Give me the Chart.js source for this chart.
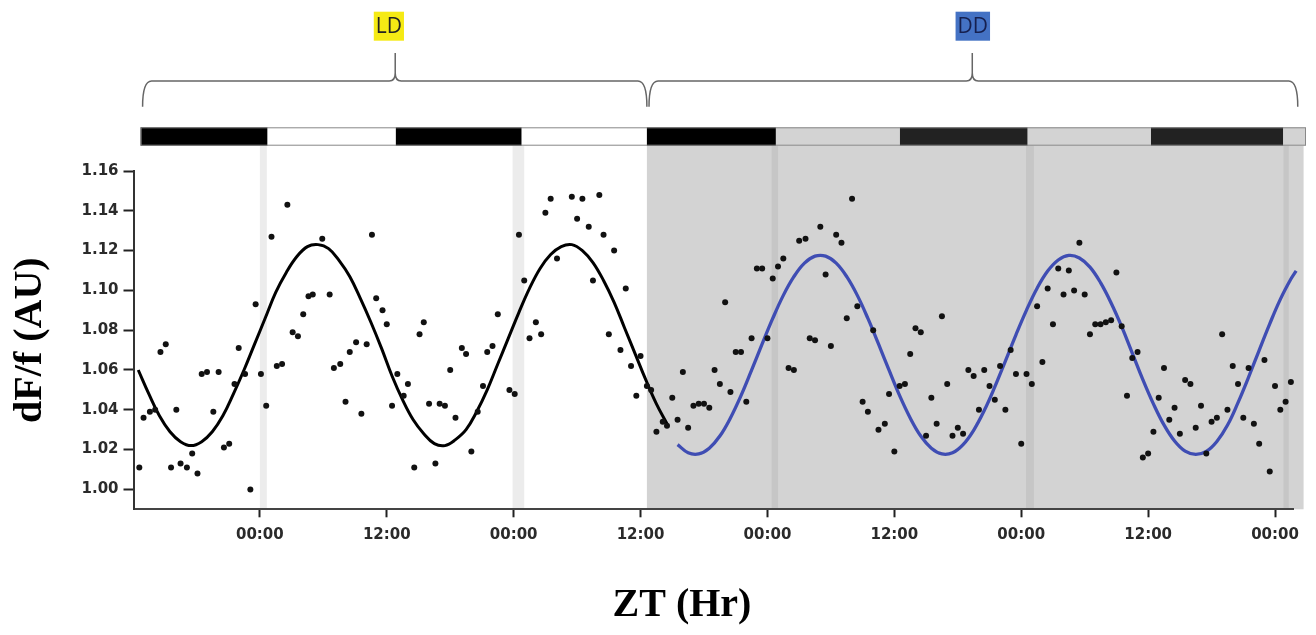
<!DOCTYPE html>
<html><head><meta charset="utf-8">
<script src="https://cdn.jsdelivr.net/npm/chart.js@4.4.1/dist/chart.umd.min.js"></script>
<style>html,body{margin:0;padding:0;background:#fff;}#wrap{width:1316px;height:635px;position:relative;}</style>
</head><body><div id="wrap"><canvas id="c" width="1316" height="635"></canvas></div>
<script>
// ---- data (hours relative to first 00:00) ----
const pointHours = [-11.4,-11.0,-10.4,-9.9,-9.4,-8.9,-8.4,-7.9,-7.5,-6.9,-6.4,-5.9,-5.5,-5.0,-4.4,-3.9,-3.4,-2.9,-2.4,-2.0,-1.4,-0.9,-0.4,0.1,0.6,1.1,1.6,2.1,2.6,3.1,3.6,4.1,4.6,5.0,5.9,6.6,7.0,7.6,8.1,8.5,9.1,9.6,10.1,10.6,11.0,11.6,12.0,12.5,13.0,13.6,14.0,14.6,15.1,15.5,16.0,16.6,17.0,17.5,
18.0,18.5,19.1,19.5,20.0,20.6,21.1,21.5,22.0,22.5,23.6,24.1,24.5,25.0,25.5,26.1,26.6,27.0,27.5,28.1,29.5,30.0,30.5,31.1,31.5,32.1,32.5,33.0,33.5,34.1,34.6,35.1,35.6,36.0,36.6,37.0,37.5,38.1,38.5,39.0,39.5,40.0,40.5,41.0,41.5,42.0,42.5,43.0,43.5,44.0,44.5,45.0,45.5,46.0,46.5,47.0,47.5,48.0,48.5,49.0,49.5,50.0,50.5,51.0,51.6,52.0,52.5,53.0,53.5,54.0,54.5,55.0,55.5,56.0,56.5,57.0,57.5,
58.0,58.5,59.1,59.5,60.0,60.5,61.0,61.5,62.0,62.5,63.0,63.5,64.0,64.5,65.0,65.5,66.0,66.5,67.0,67.5,68.0,68.5,69.0,69.5,70.0,70.5,71.0,71.5,72.0,72.5,73.0,73.5,74.0,74.5,75.0,75.5,76.0,76.5,77.0,77.5,78.0,78.5,79.0,79.5,80.0,80.5,81.0,81.5,82.0,82.5,83.0,83.5,84.0,84.5,85.0,85.5,86.0,86.5,87.0,87.5,88.0,88.5,89.0,89.5,90.0,90.5,91.0,91.5,92.0,92.5,93.0,93.5,94.0,94.5,95.0,95.5,96.0,96.5,97.0,97.5];
const pointValues = [1.011,1.036,1.039,1.040,1.069,1.073,1.011,1.040,1.013,1.011,1.018,1.008,1.058,1.059,1.039,1.059,1.021,1.023,1.053,1.071,1.058,1.000,1.093,1.058,1.042,1.127,1.062,1.063,1.143,1.079,1.077,1.088,1.097,1.098,1.126,1.098,1.061,1.063,1.044,1.069,1.074,1.038,1.073,1.128,1.096,1.090,1.083,1.042,1.058,1.047,1.053,1.011,1.078,1.084,1.043,1.013,1.043,1.042,
1.060,1.036,1.071,1.068,1.019,1.039,1.052,1.069,1.072,1.088,1.050,1.048,1.128,1.105,1.076,1.084,1.078,1.139,1.146,1.116,1.147,1.136,1.146,1.132,1.105,1.148,1.128,1.078,1.120,1.070,1.101,1.062,1.047,1.067,1.052,1.050,1.029,1.034,1.032,1.046,1.035,1.059,1.031,1.042,1.043,1.043,1.041,1.060,1.053,1.094,1.049,1.069,1.069,1.044,1.076,1.111,1.111,1.076,1.106,1.112,1.116,1.061,1.060,1.125,1.126,1.076,1.075,1.132,1.108,1.072,1.128,1.124,1.086,1.146,1.092,1.044,1.039,
1.080,1.030,1.033,1.048,1.019,1.052,1.053,1.068,1.081,1.079,1.027,1.046,1.033,1.087,1.053,1.027,1.031,1.028,1.060,1.057,1.040,1.060,1.052,1.045,1.062,1.040,1.070,1.058,1.023,1.058,1.053,1.092,1.064,1.101,1.083,1.111,1.098,1.110,1.100,1.124,1.098,1.078,1.083,1.083,1.084,1.085,1.109,1.082,1.047,1.066,1.069,1.016,1.018,1.029,1.046,1.061,1.035,1.041,1.028,1.055,1.053,1.031,1.042,1.018,1.034,1.036,1.078,1.040,1.062,1.053,1.036,1.061,1.033,1.023,1.065,1.009,1.052,1.040,1.044,1.054];

const ldFitHours = [-11.5,-10.5,-9.5,-8.5,-7.5,-6.5,-5.5,-4.5,-3.5,-2.5,-1.5,-0.5,0.5,1.5,2.5,3.5,4.5,5.5,6.5,7.5,8.5,9.5,10.5,11.5,12.5,13.5,14.5,15.5,16.5,17.5,18.5,19.5,20.5,21.5,22.5,23.5,24.5,25.5,26.5,27.5,28.5,29.5,30.5,31.5,32.5,33.5,34.5,35.5,36.5,37.5,38.5];
const ldFitValues = [1.060,1.048,1.037,1.029,1.024,1.022,1.024,1.029,1.037,1.048,1.060,1.073,1.086,1.099,1.109,1.117,1.122,1.123,1.121,1.115,1.107,1.096,1.084,1.071,1.057,1.045,1.035,1.028,1.023,1.022,1.025,1.030,1.039,1.050,1.063,1.076,1.089,1.101,1.111,1.118,1.122,1.123,1.120,1.114,1.105,1.094,1.081,1.068,1.055,1.043,1.033];

const ddFitHours = [39.5,40.5,41.5,42.5,43.5,44.5,45.5,46.5,47.5,48.5,49.5,50.5,51.5,52.5,53.5,54.5,55.5,56.5,57.5,58.5,59.5,60.5,61.5,62.5,63.5,64.5,65.5,66.5,67.5,68.5,69.5,70.5,71.5,72.5,73.5,74.5,75.5,76.5,77.5,78.5,79.5,80.5,81.5,82.5,83.5,84.5,85.5,86.5,87.5,88.5,89.5,90.5,91.5,92.5,93.5,94.5,95.5,96.5,97.5,98.0];
const ddFitValues = [1.0225,1.0184,1.0178,1.0207,1.0268,1.0359,1.0471,1.0599,1.0731,1.0859,1.0975,1.1069,1.1137,1.1172,1.1172,1.1137,1.1069,1.0975,1.0859,1.0731,1.0599,1.0471,1.0359,1.0268,1.0207,1.0178,1.0184,1.0225,1.0297,1.0396,1.0515,1.0645,1.0777,1.0901,1.1011,1.1097,1.1153,1.1176,1.1163,1.1117,1.1039,1.0937,1.0818,1.0685,1.0552,1.0430,1.0324,1.0243,1.0192,1.0176,1.0191,1.0241,1.0322,1.0436,1.0564,1.0699,1.0832,1.0955,1.1057,1.1098];

const xTickHours = [0,12,24,36,48,60,72,84,96];
const xTickLabels = ['00:00','12:00','00:00','12:00','00:00','12:00','00:00','12:00','00:00'];
const yTickValues = [1.00,1.02,1.04,1.06,1.08,1.10,1.12,1.14,1.16];

const barEdges = [-11.28,0.73,12.86,24.76,36.6,48.8,60.53,72.61,84.27,96.78,98.93];
const barPhases = ['dark','light','dark','light','dark','subjLight','subjDark','subjLight','subjDark','subjLight'];
const conditionLabels = ['LD','DD'];
const conditionStart = [-11.09,36.8];
const conditionPeak = [12.8,67.37];
const conditionEnd = [36.6,98.15];
const conditionLabelCenter = [12.2,67.42];
const ddRegion = [36.6,98.7];
const transitionBandStart = [0,23.9,48.4,72.45,96.8];
const transitionBandEnd = [0.66,25.0,49.0,73.2,97.3];

// ---- styles ----
const phaseColor = {dark:'#000000', light:'#ffffff', subjDark:'#222222', subjLight:'#d3d3d3'};
const labelBg = ['#f5ea14','#4472c4'];
const labelFg = ['#222222','#16204f'];

const decor = {
  id:'decor',
  beforeDraw(chart){
    const ctx = chart.ctx, xs = chart.scales.x, ca = chart.chartArea;
    const px = h => xs.getPixelForValue(h);
    const barTop = 127.3, barBot = 145.7;
    ctx.save();
    ctx.fillStyle = '#d3d3d3';
    ctx.fillRect(px(ddRegion[0]), barBot, px(ddRegion[1]) - px(ddRegion[0]), ca.bottom - barBot);
    for (let i = 0; i < transitionBandStart.length; i++) {
      const inDD = transitionBandStart[i] >= ddRegion[0];
      ctx.fillStyle = inDD ? '#c6c6c6' : '#ececec';
      ctx.fillRect(px(transitionBandStart[i]), barBot, px(transitionBandEnd[i]) - px(transitionBandStart[i]), ca.bottom - barBot);
    }
    for (let i = 0; i < barPhases.length; i++) {
      ctx.fillStyle = phaseColor[barPhases[i]];
      ctx.fillRect(px(barEdges[i]), barTop, px(barEdges[i+1]) - px(barEdges[i]), barBot - barTop);
    }
    ctx.strokeStyle = '#888';
    ctx.lineWidth = 1;
    ctx.strokeRect(px(barEdges[0]) + 0.5, barTop + 0.5, px(barEdges[barEdges.length-1]) - px(barEdges[0]) - 1, barBot - barTop - 1);
    const yEnd = 106.7, yH = 81, yTip = 53;
    ctx.strokeStyle = '#666';
    ctx.lineWidth = 1.5;
    for (let i = 0; i < conditionLabels.length; i++) {
      const x1 = px(conditionStart[i]), xm = px(conditionPeak[i]), x2 = px(conditionEnd[i]);
      ctx.beginPath();
      ctx.moveTo(x1, yEnd);
      ctx.quadraticCurveTo(x1, yH, x1 + 9, yH);
      ctx.lineTo(xm - 6, yH);
      ctx.quadraticCurveTo(xm, yH, xm, yH - 8);
      ctx.lineTo(xm, yTip);
      ctx.moveTo(xm, yH - 8);
      ctx.quadraticCurveTo(xm, yH, xm + 6, yH);
      ctx.lineTo(x2 - 9, yH);
      ctx.quadraticCurveTo(x2, yH, x2, yEnd);
      ctx.stroke();
      ctx.font = '21px "Open Sans"';
      const w = ctx.measureText(conditionLabels[i]).width + 4;
      const cx = px(conditionLabelCenter[i]);
      ctx.fillStyle = labelBg[i];
      ctx.fillRect(cx - w/2, 11.7, w, 29);
      ctx.fillStyle = labelFg[i];
      ctx.textAlign = 'center';
      ctx.textBaseline = 'middle';
      ctx.fillText(conditionLabels[i], cx, 27);
    }
    ctx.font = 'bold 40px "Liberation Serif"';
    ctx.fillStyle = '#000';
    ctx.textAlign = 'center';
    ctx.textBaseline = 'middle';
    ctx.fillText('ZT (Hr)', 682, 606);
    ctx.restore();
  }
};

const pts = pointHours.map((h,i)=>({x:h, y:pointValues[i]}));
const ldFit = ldFitHours.map((h,i)=>({x:h, y:ldFitValues[i]}));
const ddFit = ddFitHours.map((h,i)=>({x:h, y:ddFitValues[i]}));

const tickFont = {family:'DejaVu Sans', weight:'bold', size:15};

new Chart(document.getElementById('c').getContext('2d'), {
  type:'scatter',
  data:{datasets:[
    {label:'dF/f', data:pts, pointRadius:3, pointBackgroundColor:'#111', pointBorderWidth:0, showLine:false, clip:false},
    {label:'LD fit', data:ldFit, showLine:true, borderColor:'#000', borderWidth:3, pointRadius:0, tension:0.4, clip:false},
    {label:'DD fit', data:ddFit, showLine:true, borderColor:'#3f4db3', borderWidth:3.3, pointRadius:0, tension:0.4, clip:false}
  ]},
  options:{
    responsive:false, animation:false, devicePixelRatio:1,
    layout:{padding:{top:171, right:23, bottom:0, left:0}},
    plugins:{legend:{display:false}, tooltip:{enabled:false}},
    scales:{
      x:{type:'linear', min:-11.95, max:97.7,
        afterBuildTicks:s=>{ s.ticks = xTickHours.map(v=>({value:v})); },
        ticks:{callback:(v,i)=>xTickLabels[i], font:tickFont, color:'#2a2a2a', padding:9, maxRotation:0, autoSkip:false},
        grid:{display:true, drawOnChartArea:false, drawTicks:true, tickLength:8, tickWidth:2, tickColor:'#222'},
        border:{display:true, color:'#444', width:2},
        afterFit:s=>{ s.height = 125.7; }
      },
      y:{type:'linear', min:0.99, max:1.16,
        afterBuildTicks:s=>{ s.ticks = yTickValues.map(v=>({value:v})); },
        ticks:{callback:v=>Number(v).toFixed(2), font:tickFont, color:'#2a2a2a', padding:5, autoSkip:false},
        grid:{display:true, drawOnChartArea:false, drawTicks:true, tickLength:10, tickWidth:2, tickColor:'#222'},
        border:{display:true, color:'#333', width:2},
        title:{display:true, text:'dF/f (AU)', font:{family:'Liberation Serif', size:40, weight:'bold'}, color:'#000', padding:{top:7, bottom:0}},
        afterFit:s=>{ s.width = 133.5; }
      }
    }
  },
  plugins:[decor]
});
</script>
</body></html>
